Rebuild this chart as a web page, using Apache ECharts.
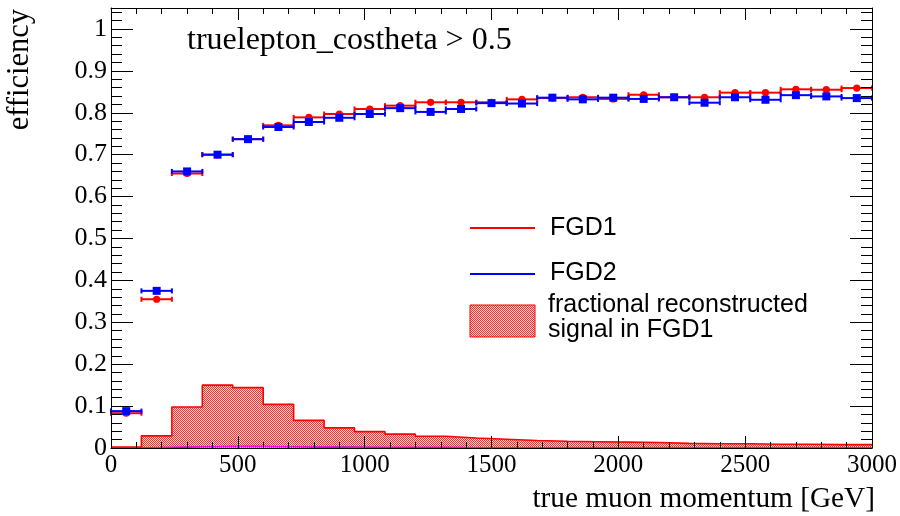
<!DOCTYPE html>
<html><head><meta charset="utf-8">
<script src="https://cdn.jsdelivr.net/npm/echarts@6/dist/echarts.min.js"></script>
<style>html,body{margin:0;padding:0;background:#fff}#c{width:900px;height:516px}</style>
</head><body><div id="c"></div>
<script>
// ---- data ----
const binLow = [0,120,240,360,480,600,720,840,960,1080,1200,1320,1440,1560,1680,1800,1920,2040,2160,2280,2400,2520,2640,2760,2880];
const binWidth = 120;
const xMax = 3000;
const fgd1 = [0.083,0.355,0.655,0.700,0.737,0.770,0.789,0.797,0.809,0.817,0.825,0.825,0.825,0.832,0.835,0.837,0.833,0.843,0.837,0.837,0.848,0.848,0.856,0.855,0.859];
const fgd2 = [0.088,0.375,0.660,0.700,0.737,0.766,0.778,0.788,0.797,0.811,0.802,0.809,0.823,0.822,0.836,0.832,0.836,0.833,0.837,0.824,0.837,0.831,0.842,0.839,0.835];
const fraction = [0.002,0.029,0.098,0.150,0.144,0.104,0.066,0.048,0.039,0.033,0.028,0.024,0.021,0.018,0.016,0.015,0.014,0.013,0.011,0.010,0.010,0.009,0.009,0.008,0.008];
const fracMagenta = [0,0.002,0.003,0.004,0.004,0.003,0.003,0.002,0.002,0.002,0.002,0.001,0.001,0.001,0.001,0.001,0.001,0.001,0.001,0.001,0.001,0.001,0.001,0.001,0.001];
const fracDark = [0,0.001,0.003,0.004,0.004,0.003,0.002,0.002,0.001,0.001,0.001,0.001,0.001,0,0,0,0,0,0,0,0,0,0,0,0];
const titleText = 'truelepton_costheta > 0.5';
const legendNames = ['FGD1','FGD2','fractional reconstructed','signal in FGD1'];

// ---- pattern ----
const pc = document.createElement('canvas'); pc.width = 2; pc.height = 2;
const g = pc.getContext('2d');
g.fillStyle = '#ffdada'; g.fillRect(0,0,2,2);
g.fillStyle = '#ff3030'; g.fillRect(0,0,1,1); g.fillRect(1,1,1,1);
const hatch = {image: pc, repeat: 'repeat'};

function stepData(vals){
  const d = binLow.map((x,i)=>[x, vals[i]]);
  d.push([xMax, vals[vals.length-1]]);
  return d;
}
function pointData(vals){ return binLow.map((x,i)=>[x + binWidth/2, vals[i]]); }

function makeErr(color, shape){
  return function(params, api){
    const c = api.value(0), y = api.value(1);
    const p1 = api.coord([c - binWidth/2, y]);
    const p2 = api.coord([c + binWidth/2, y]);
    const pc2 = api.coord([c, y]);
    const ls = {stroke: color, lineWidth: 2};
    const children = [
      {type:'line', shape:{x1:p1[0], y1:p1[1], x2:p2[0], y2:p2[1]}, style:ls},
      {type:'line', shape:{x1:p1[0], y1:p1[1]-2.5, x2:p1[0], y2:p1[1]+2.5}, style:ls},
      {type:'line', shape:{x1:p2[0], y1:p2[1]-2.5, x2:p2[0], y2:p2[1]+2.5}, style:ls}
    ];
    if (shape === 'circle') children.push({type:'circle', shape:{cx:pc2[0], cy:pc2[1], r:3.6}, style:{fill:color}});
    else children.push({type:'rect', shape:{x:pc2[0]-4, y:pc2[1]-4, width:8, height:8}, style:{fill:color}});
    return {type:'group', children};
  };
}

const serif = 'Liberation Serif';
const axBase = {
  type:'value', min:0, max:xMax, interval:500,
  axisLine:{show:true, onZero:false, lineStyle:{color:'#000', width:1}},
  splitLine:{show:false}, z:10
};
const yBase = {
  type:'value', min:0, max:1.05, interval:0.1,
  axisLine:{show:true, onZero:false, lineStyle:{color:'#000', width:1}},
  splitLine:{show:false}, z:10
};

const chart = echarts.init(document.getElementById('c'), null, {renderer:'canvas'});
chart.setOption({
  animation:false,
  backgroundColor:'#fff',
  grid:{left:111, right:25, top:8, bottom:68},
  xAxis:[
    Object.assign({}, axBase, {position:'bottom',
      axisTick:{show:true, inside:true, length:12, lineStyle:{color:'#000'}},
      minorTick:{show:true, splitNumber:5, length:6, lineStyle:{color:'#000'}},
      axisLabel:{show:true, color:'#000', fontFamily:serif, fontSize:25, margin:5,
        formatter:function(v){ return String(Math.round(v)); }}}),
    Object.assign({}, axBase, {position:'top',
      axisTick:{show:true, inside:true, length:12, lineStyle:{color:'#000'}},
      minorTick:{show:true, splitNumber:5, length:6, lineStyle:{color:'#000'}},
      axisLabel:{show:false}})
  ],
  yAxis:[
    Object.assign({}, yBase, {position:'left',
      axisTick:{show:true, inside:true, length:22, lineStyle:{color:'#000'}},
      minorTick:{show:true, splitNumber:5, length:11, lineStyle:{color:'#000'}},
      axisLabel:{show:true, color:'#000', fontFamily:serif, fontSize:26, margin:4, showMaxLabel:false,
        formatter:function(v){ if (v > 1.001) return ''; return String(+v.toFixed(1)); }}}),
    Object.assign({}, yBase, {position:'right',
      axisTick:{show:true, inside:true, length:22, lineStyle:{color:'#000'}},
      minorTick:{show:true, splitNumber:5, length:11, lineStyle:{color:'#000'}},
      axisLabel:{show:false}})
  ],
  series:[
    {type:'line', name:'fraction', data:stepData(fraction), step:'end', symbol:'none',
      lineStyle:{color:'#ff0000', width:1.6}, areaStyle:{color:hatch, opacity:1}, z:2},
    {type:'line', name:'dark', data:stepData(fracDark), step:'end', symbol:'none',
      lineStyle:{color:'#333333', width:1.2}, z:3},
    {type:'line', name:'magenta', data:stepData(fracMagenta), step:'end', symbol:'none',
      lineStyle:{color:'#ff00ff', width:1.2}, z:3},
    {type:'custom', name:'FGD1', data:pointData(fgd1), renderItem:makeErr('#ff0000','circle'), z:4},
    {type:'custom', name:'FGD2', data:pointData(fgd2), renderItem:makeErr('#0000ff','square'), z:5}
  ],
  graphic:[
    {type:'text', x:187, y:41, style:{text:titleText, font:'32px "Liberation Serif"', fill:'#000', textVerticalAlign:'middle', verticalAlign:'middle'}},
    {type:'text', x:35, y:9, rotation:Math.PI/2,
      style:{text:'efficiency', font:'30.5px "Liberation Serif"', fill:'#000', textAlign:'right', textVerticalAlign:'bottom', align:'right', verticalAlign:'bottom'}},
    {type:'text', x:875, y:499,
      style:{text:'true muon momentum [GeV]', font:'29.3px "Liberation Serif"', fill:'#000', textAlign:'right', textVerticalAlign:'middle', align:'right', verticalAlign:'middle'}},
    {type:'line', shape:{x1:470, y1:228, x2:535, y2:228}, style:{stroke:'#ff0000', lineWidth:2}},
    {type:'line', shape:{x1:470, y1:274, x2:535, y2:274}, style:{stroke:'#0000ff', lineWidth:2}},
    {type:'rect', shape:{x:470, y:305, width:65, height:32}, style:{fill:hatch, stroke:'#ff0000', lineWidth:1}},
    {type:'text', x:550, y:228, style:{text:legendNames[0], font:'25px "Liberation Sans"', fill:'#000', textVerticalAlign:'middle', verticalAlign:'middle'}},
    {type:'text', x:550, y:273, style:{text:legendNames[1], font:'25px "Liberation Sans"', fill:'#000', textVerticalAlign:'middle', verticalAlign:'middle'}},
    {type:'text', x:548, y:305, style:{text:legendNames[2], font:'25px "Liberation Sans"', fill:'#000', textVerticalAlign:'middle', verticalAlign:'middle'}},
    {type:'text', x:548, y:330, style:{text:legendNames[3], font:'25px "Liberation Sans"', fill:'#000', textVerticalAlign:'middle', verticalAlign:'middle'}}
  ]
});
</script></body></html>
